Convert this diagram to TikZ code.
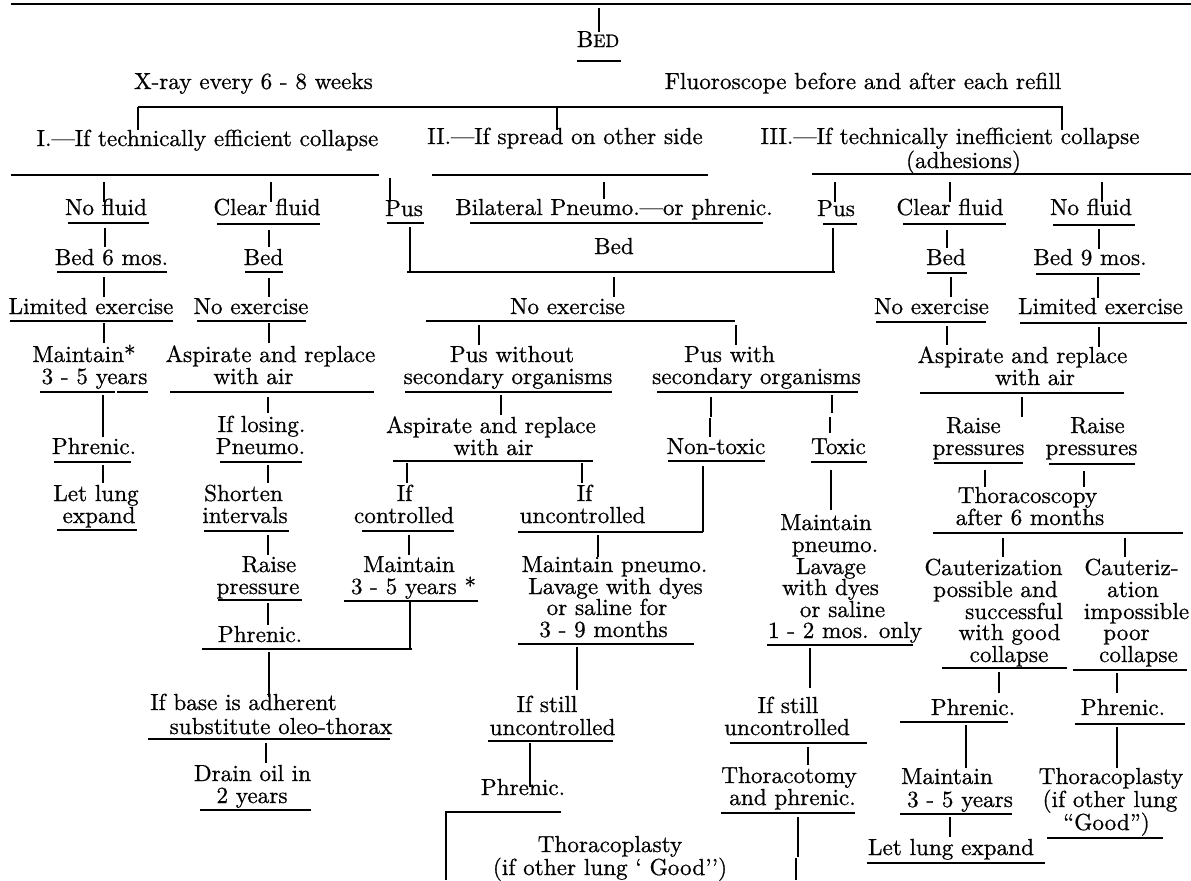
\documentclass[tikz,border=0pt]{standalone}
\usepackage{fontspec}
\newfontfamily\chartfont{lmroman10-regular.otf}[FakeBold=0.7]
\newcommand{\tx}[4]{\node[txt] (#1) at (#2,#3+7) {#4};}
\newcommand{\hseg}[3]{\draw[ln] (#2,#1) -- (#3,#1);}
\newcommand{\vseg}[3]{\draw[vl] (#1,#2) -- (#1,#3);}
\begin{document}
\begin{tikzpicture}[x=0.5pt,y=-0.5pt,
  txt/.style={anchor=base,inner sep=0pt,font=\chartfont\fontsize{11.6}{13}\selectfont},
  ln/.style={line width=0.85pt},
  vl/.style={line width=0.55pt}]
\useasboundingbox (0,0) rectangle (1191,880);
% ---------- header
\draw[line width=1.1pt] (11,4) -- (1191,4);
\vseg{599}{8}{32}
\tx{bed}{598}{40}{B{\fontsize{9}{10}\selectfont ED}}
\hseg{61}{577}{621}
\tx{xray}{253.5}{82}{X-ray every 6 - 8 weeks}
\tx{fluor}{863}{82}{Fluoroscope before and after each refill}
\hseg{107}{138}{1063}
\vseg{138}{107}{130}\vseg{557}{107}{130}\vseg{1062}{107}{130}
\tx{one}{207.5}{139}{I.—If technically efficient collapse}
\tx{two}{565}{137}{II.—If spread on other side}
\tx{three}{950}{137}{III.—If technically inefficient collapse}
\tx{adh}{963.5}{161}{(adhesions)}
\hseg{175}{11}{379}
\hseg{175}{432}{708}
\hseg{174}{812}{1191}
\vseg{390}{178}{200}
\vseg{104}{182}{202}\vseg{271}{182}{202}\vseg{604}{182}{199}
\vseg{835}{182}{202}\vseg{950}{182}{202}\vseg{1102}{182}{202}
% ---------- row: fluid
\tx{nf1}{106}{208}{No fluid}
\tx{cf1}{267}{208}{Clear fluid}
\tx{pus1}{404}{209}{Pus}
\tx{bil}{614}{208}{Bilateral Pneumo.—or phrenic.}
\tx{pus2}{836}{209}{Pus}
\tx{cf2}{950}{208}{Clear fluid}
\tx{nf2}{1091}{208}{No fluid}
\hseg{223}{68}{149}\hseg{224}{217}{320}\hseg{223}{387}{424}\hseg{223}{470}{763}
\hseg{224}{823}{857}\hseg{224}{903}{1006}\hseg{225}{1053}{1135}
\vseg{105}{228}{247}\vseg{269}{230}{247}\vseg{410}{227}{272}\vseg{833}{228}{272}
\vseg{947}{230}{248}\vseg{1099}{229}{249}
% ---------- row: bed
\tx{b6}{111.5}{258}{Bed 6 mos.}
\tx{bl}{263.5}{258}{Bed}
\tx{bm}{614}{247}{Bed}
\tx{br}{946}{258}{Bed}
\tx{b9}{1090}{258}{Bed 9 mos.}
\hseg{272}{57}{167}\hseg{272}{245}{283}\hseg{272}{407}{835}\hseg{273}{927}{967}\hseg{274}{1036}{1140}
\vseg{104}{277}{297}\vseg{269}{278}{297}\vseg{614}{277}{297}\vseg{951}{277}{297}\vseg{1098}{277}{298}
% ---------- row: exercise
\tx{le1}{91}{307}{Limited exercise}
\tx{ne1}{251}{307}{No exercise}
\tx{ne2}{567.5}{307}{No exercise}
\tx{ne3}{931.5}{307}{No exercise}
\tx{le2}{1100.5}{307}{Limited exercise}
\hseg{321}{10}{173}\hseg{321}{197}{306}\hseg{321}{426}{735}\hseg{322}{876}{986}\hseg{323}{1020}{1187}
\vseg{104}{323}{343}\vseg{269}{323}{343}\vseg{479}{325}{345}\vseg{736}{325}{345}
\vseg{947}{326}{345}\vseg{1099}{327}{347}
% ---------- row: maintain / aspirate / pus with(out)
\tx{m1a}{84}{355}{Maintain*}
\tx{m1b}{94.5}{377}{3 - 5 years}
\tx{as1a}{270.5}{355}{Aspirate and replace}
\tx{as1b}{253.5}{377}{with air}
\tx{pwoa}{512}{355}{Pus without}
\tx{pwob}{508}{377}{secondary organisms}
\tx{pwa}{729.5}{355}{Pus with}
\tx{pwb}{756.5}{377}{secondary organisms}
\tx{as3a}{1022.5}{356}{Aspirate and replace}
\tx{as3b}{1035}{378}{with air}
\hseg{392}{40}{115}\hseg{392}{117}{148}\hseg{392}{170}{374}\hseg{392}{405}{612}\hseg{392}{657}{858}
\hseg{393}{920}{1124}
\vseg{103}{395}{437}\vseg{268}{397}{413}\vseg{501}{395}{415}
\vseg{711}{397}{417}\vseg{710}{418}{437}
\vseg{832}{395}{413}\vseg{830}{417}{433}
\vseg{1022}{397}{417}
% ---------- row: phrenic / losing / aspirate / toxic / raise
\tx{ph1}{94}{447}{Phrenic.}
\tx{los}{261.5}{425}{If losing.}
\tx{pne}{260.5}{447}{Pneumo.}
\tx{as2a}{491}{426}{Aspirate and replace}
\tx{as2b}{493.5}{448}{with air}
\tx{nt}{716}{447}{Non-toxic}
\tx{tox}{838.5}{447}{Toxic}
\tx{r1a}{973.5}{426}{Raise}
\tx{r1b}{978.5}{448}{pressures}
\tx{r2a}{1097.5}{426}{Raise}
\tx{r2b}{1091.5}{448}{pressures}
\hseg{462}{54}{131}\hseg{462}{220}{302}\hseg{461}{393}{593}\hseg{461}{668}{765}\hseg{462}{811}{867}
\hseg{463}{934}{1023}\hseg{464}{1049}{1135}
\vseg{103}{465}{483}\vseg{268}{465}{483}\vseg{407}{463}{483}\vseg{582}{463}{483}
\vseg{703}{466}{532}\vseg{831}{470}{510}\vseg{985}{470}{487}\vseg{1084}{471}{487}
% ---------- row: let lung / shorten / if
\tx{ll1a}{96}{494}{Let lung}
\tx{ll1b}{99}{516}{expand}
\tx{sha}{243.5}{494}{Shorten}
\tx{shb}{245}{516}{intervals}
\tx{ica}{404.5}{494}{If}
\tx{icb}{404}{516}{controlled}
\tx{iua}{584.5}{494}{If}
\tx{iub}{582.5}{516}{uncontrolled}
\tx{tsa}{1027.5}{496}{Thoracoscopy}
\tx{tsb}{1030}{518}{after 6 months}
\tx{mt1}{826}{523}{Maintain}
\tx{mt2}{835}{545}{pneumo.}
\tx{mt3}{831}{567}{Lavage}
\tx{mt4}{830.5}{588}{with dyes}
\tx{mt5}{842.5}{610}{or saline}
\tx{mt6}{845}{631}{1 - 2 mos. only}
\hseg{530}{57}{137}\hseg{531}{204}{289}\hseg{531}{362}{454}\hseg{532}{518}{703}\hseg{533}{933}{1183}
\vseg{268}{535}{555}\vseg{409}{535}{555}\vseg{598}{535}{557}\vseg{1003}{538}{557}\vseg{1125}{538}{557}
% ---------- row: raise pressure / maintain / lavage / cauterization
\tx{rpa}{269}{565}{Raise}
\tx{rpb}{258}{587}{pressure}
\tx{m2a}{409}{565}{Maintain}
\tx{m2b}{413.5}{587}{3 - 5 years *}
\tx{lv1}{614.5}{565}{Maintain pneumo.}
\tx{lv2}{615.5}{587}{Lavage with dyes}
\tx{lv3}{607}{608}{or saline for}
\tx{lv4}{603.5}{630}{3 - 9 months}
\tx{ca1}{993.5}{568}{Cauterization}
\tx{ca2}{995.5}{590}{possible and}
\tx{ca3}{1014}{612}{successful}
\tx{ca4}{1009.5}{633}{with good}
\tx{ca5}{1009}{655}{collapse}
\tx{ci1}{1131.5}{568}{Cauteriz-}
\tx{ci2}{1133}{590}{ation}
\tx{ci3}{1136.5}{612}{impossible}
\tx{ci4}{1126.5}{633}{poor}
\tx{ci5}{1138.5}{655}{collapse}
\hseg{600}{218}{302}\hseg{601}{344}{478}\hseg{644}{518}{694}\hseg{645}{767}{913}
\hseg{668}{942}{1067}\hseg{670}{1073}{1187}
\vseg{268}{603}{625}\vseg{410}{601}{649}
\tx{ph2}{260}{635}{Phrenic.}
\hseg{649}{202}{412}
\vseg{269}{652}{697}\vseg{577}{647}{690}\vseg{810}{648}{688}\vseg{999}{672}{693}\vseg{1117}{673}{693}
% ---------- row: base adherent / still uncontrolled / phrenic
\tx{ba1}{243.5}{703}{If base is adherent}
\tx{ba2}{281}{727}{substitute oleo-thorax}
\tx{su1a}{547}{705}{If still}
\tx{su1b}{552.5}{728}{uncontrolled}
\tx{su2a}{788}{706}{If still}
\tx{su2b}{787}{728}{uncontrolled}
\tx{ph3}{973}{708}{Phrenic.}
\tx{ph4}{1123}{708}{Phrenic.}
\hseg{739}{148}{390}\hseg{741}{488}{613}\hseg{743}{730}{867}\hseg{722}{900}{1008}\hseg{724}{1075}{1185}
\vseg{266}{743}{763}\vseg{530}{743}{787}\vseg{808}{747}{765}\vseg{966}{725}{768}\vseg{1117}{727}{768}
% ---------- bottom rows
\tx{dr1}{252.5}{774}{Drain oil in}
\tx{dr2}{252}{796}{2 years}
\tx{ph5}{523}{788}{Phrenic.}
\tx{tt1}{789}{776}{Thoracotomy}
\tx{tt2}{792.5}{798}{and phrenic.}
\tx{m3a}{947}{777}{Maintain}
\tx{m3b}{960}{800}{3 - 5 years}
\tx{tp1a}{1111}{777}{Thoracoplasty}
\tx{tp1b}{1110}{800}{(if other lung}
\tx{tp1c}{1106.5}{823}{“Good”)}
\hseg{810}{200}{311}\hseg{812}{445}{561}\hseg{813}{721}{855}\hseg{814}{900}{1012}\hseg{838}{1047}{1163}
\vseg{446}{812}{880}\vseg{798}{817}{857}\vseg{796}{858}{880}\vseg{950}{817}{837}
\tx{lle}{951}{848}{Let lung expand}
\hseg{863}{867}{1045}
\tx{tp2a}{610}{845}{Thoracoplasty}
\tx{tp2b}{610}{868}{(if other lung ‘ Good’’)}
\end{tikzpicture}
\end{document}
